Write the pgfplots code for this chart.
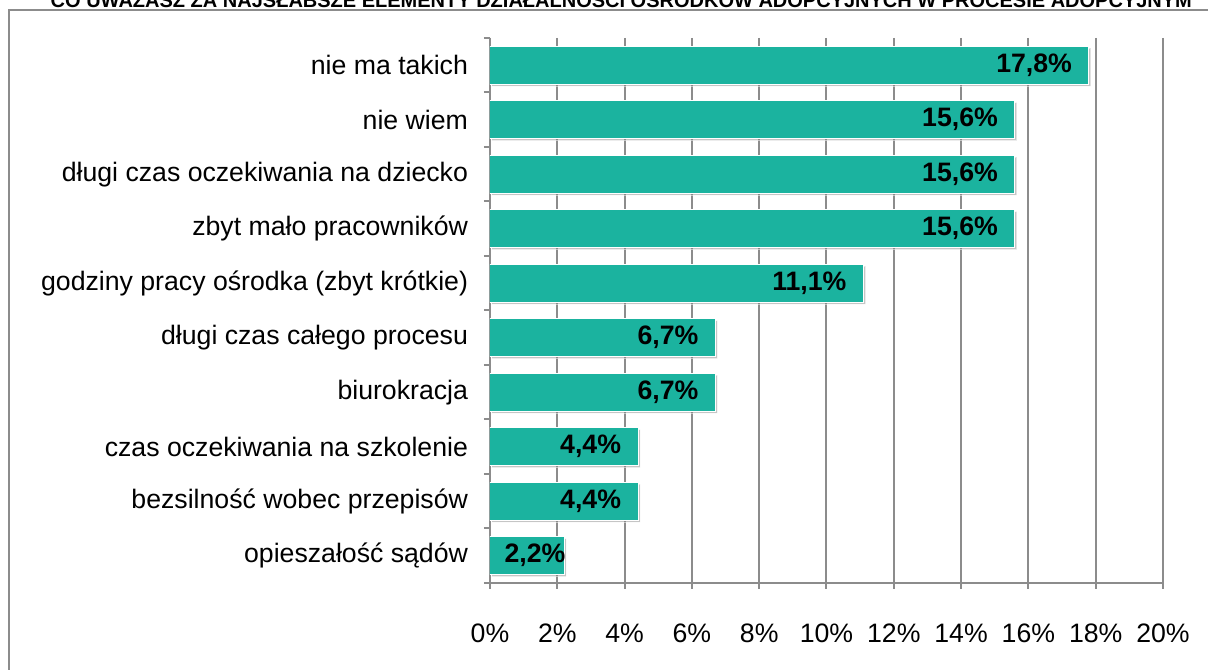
\documentclass[border=0pt]{standalone}
\usepackage{pgfplots}
\pgfplotsset{compat=1.18}
\usepackage{pgfplotstable}
\usepackage{fontspec}
\setmainfont{Liberation Sans}
\usetikzlibrary{shadows}

\definecolor{barteal}{RGB}{27,179,159}
\definecolor{gridgray}{RGB}{140,140,140}

% pos = category index (top to bottom), v = value in %, lx = right edge of the label
\pgfplotstableread{
pos v lx
0 17.8 17.3
1 15.6 15.1
2 15.6 15.1
3 15.6 15.1
4 11.1 10.6
5 6.7 6.2
6 6.7 6.2
7 4.4 3.9
8 4.4 3.9
9 2.2 2.25
}\mydata

\begin{document}
\begin{tikzpicture}
\useasboundingbox (0,0) rectangle (906pt,502.5pt);
\clip (0,0) rectangle (906pt,502.5pt);

% frame of the chart area and the title cut off at the top
\draw[gridgray, line width=1.5pt] (6.4pt,-20pt) rectangle (950pt,495pt);
\node[anchor=base, inner sep=0pt, font=\bfseries\fontsize{15}{17}\selectfont]
  at (466pt,496.5pt) {CO UWAŻASZ ZA NAJSŁABSZE ELEMENTY DZIAŁALNOŚCI OŚRODKÓW ADOPCYJNYCH W PROCESIE ADOPCYJNYM};

\begin{axis}[
    at={(367.5pt,65.25pt)}, anchor=south west,
    scale only axis,
    width=504.75pt, height=408.75pt,
    xmin=0, xmax=20,
    ymin=-0.5, ymax=9.5,
    y dir=reverse,
    axis x line*=bottom,
    axis y line*=left,
    axis line style={gridgray, line width=1.5pt},
    xtick={0,2,...,20},
    xticklabel={\pgfmathprintnumber{\tick}\%},
    xmajorgrids,
    grid style={gridgray, line width=1.5pt},
    ytick={0,...,9},
    yticklabels={nie ma takich, nie wiem, długi czas oczekiwania na dziecko,
        zbyt mało pracowników\hspace{6pt}, godziny pracy ośrodka (zbyt krótkie),
        długi czas całego procesu, biurokracja, czas oczekiwania na szkolenie,
        bezsilność wobec przepisów, opieszałość sądów\hspace{6pt}},
    minor ytick={-0.5,0.5,...,9.5},
    tick align=outside,
    major tick length=4.5pt,
    minor tick length=4.5pt,
    tick style={gridgray, line width=1.5pt},
    every major y tick/.style={draw=none},
    /pgf/number format/assume math mode=true,
    xticklabel style={font=\fontsize{20}{22}\selectfont, yshift=-22.5pt},
    yticklabel style={font=\fontsize{20}{22}\selectfont, xshift=-8.5pt},
]
\addplot[xbar, bar width=28.5pt, fill=barteal, draw=white, line width=0.75pt,
    drop shadow={shadow xshift=1.5pt, shadow yshift=-1.5pt, fill=black!45, opacity=0.5}]
    table[x=v, y=pos] {\mydata};
\addplot[draw=none, mark=none,
    nodes near coords={\pgfmathprintnumber[fixed, fixed zerofill, precision=1, use comma]{\pgfplotspointmeta}\%},
    point meta=\thisrow{v},
    every node near coord/.style={anchor=east, inner sep=0pt, text=black,
        font=\bfseries\fontsize{20}{22}\selectfont}]
    table[x=lx, y=pos] {\mydata};
\end{axis}
\end{tikzpicture}
\end{document}
